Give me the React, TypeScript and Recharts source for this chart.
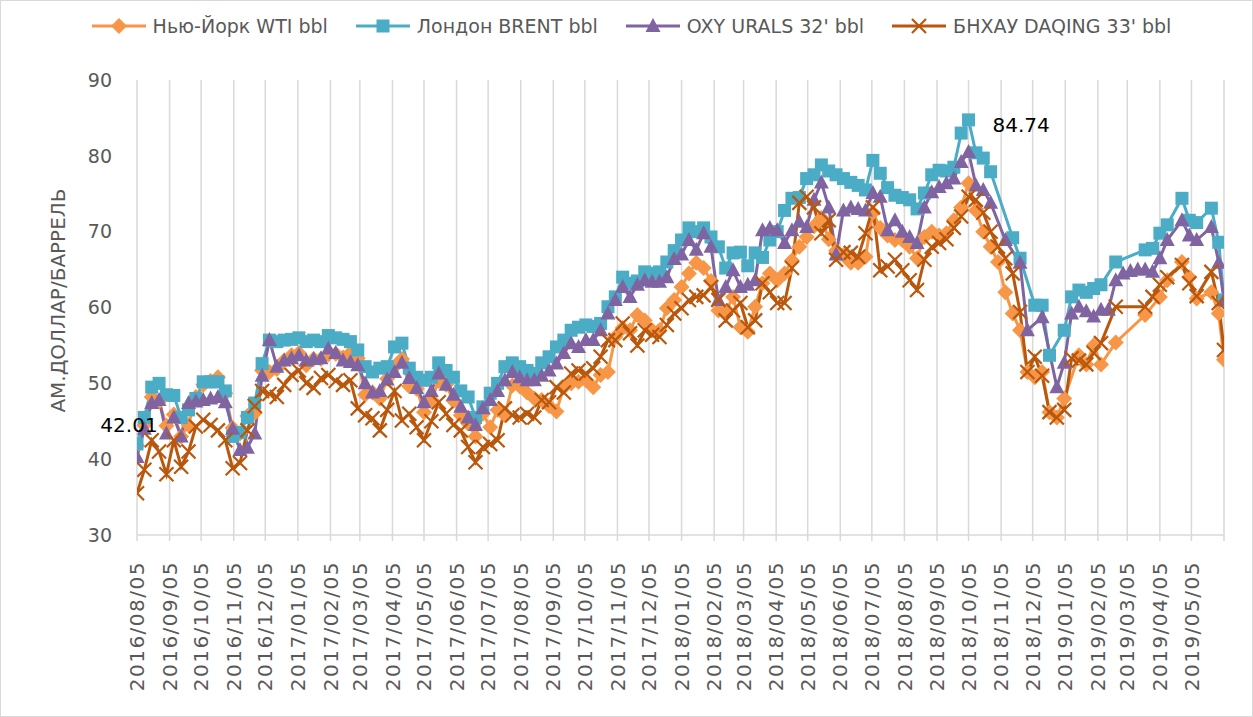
import { LineChart, Line, XAxis, YAxis, CartesianGrid } from 'recharts'

// weekly observations (Fridays), last one on the axis end
const dates = [
  '2016-08-05', '2016-08-12', '2016-08-19', '2016-08-26',
  '2016-09-02', '2016-09-09', '2016-09-16', '2016-09-23', '2016-09-30',
  '2016-10-07', '2016-10-14', '2016-10-21', '2016-10-28',
  '2016-11-04', '2016-11-11', '2016-11-18', '2016-11-25',
  '2016-12-02', '2016-12-09', '2016-12-16', '2016-12-23', '2016-12-30',
  '2017-01-06', '2017-01-13', '2017-01-20', '2017-01-27',
  '2017-02-03', '2017-02-10', '2017-02-17', '2017-02-24',
  '2017-03-03', '2017-03-10', '2017-03-17', '2017-03-24', '2017-03-31',
  '2017-04-07', '2017-04-14', '2017-04-21', '2017-04-28',
  '2017-05-05', '2017-05-12', '2017-05-19', '2017-05-26',
  '2017-06-02', '2017-06-09', '2017-06-16', '2017-06-23', '2017-06-30',
  '2017-07-07', '2017-07-14', '2017-07-21', '2017-07-28',
  '2017-08-04', '2017-08-11', '2017-08-18', '2017-08-25',
  '2017-09-01', '2017-09-08', '2017-09-15', '2017-09-22', '2017-09-29',
  '2017-10-06', '2017-10-13', '2017-10-20', '2017-10-27',
  '2017-11-03', '2017-11-10', '2017-11-17', '2017-11-24',
  '2017-12-01', '2017-12-08', '2017-12-15', '2017-12-22', '2017-12-29',
  '2018-01-05', '2018-01-12', '2018-01-19', '2018-01-26',
  '2018-02-02', '2018-02-09', '2018-02-16', '2018-02-23',
  '2018-03-02', '2018-03-09', '2018-03-16', '2018-03-23', '2018-03-30',
  '2018-04-06', '2018-04-13', '2018-04-20', '2018-04-27',
  '2018-05-04', '2018-05-11', '2018-05-18', '2018-05-25',
  '2018-06-01', '2018-06-08', '2018-06-15', '2018-06-22', '2018-06-29',
  '2018-07-06', '2018-07-13', '2018-07-20', '2018-07-27',
  '2018-08-03', '2018-08-10', '2018-08-17', '2018-08-24', '2018-08-31',
  '2018-09-07', '2018-09-14', '2018-09-21', '2018-09-28',
  '2018-10-05', '2018-10-12', '2018-10-19', '2018-10-26',
  '2018-11-02', '2018-11-09', '2018-11-16', '2018-11-23', '2018-11-30',
  '2018-12-07', '2018-12-14', '2018-12-21', '2018-12-28',
  '2019-01-04', '2019-01-11', '2019-01-18', '2019-01-25',
  '2019-02-01', '2019-02-08', '2019-02-15', '2019-02-22',
  '2019-03-01', '2019-03-08', '2019-03-15', '2019-03-22', '2019-03-29',
  '2019-04-05', '2019-04-12', '2019-04-19', '2019-04-26',
  '2019-05-03', '2019-05-10', '2019-05-17', '2019-05-24', '2019-05-31',
  '2019-06-05',
]

const wti = [
  41.8, 44.5, 48.2, 47.6,
  44.4, 45.9, 43.0, 44.5, 48.2,
  49.8, 50.3, 50.8, 48.7,
  44.1, 43.4, 45.7, 46.1,
  51.7, 51.5, 51.9, 53.0, 53.7,
  54.0, 52.4, 53.2, 53.2,
  53.8, 53.9, 53.4, 54.0,
  53.3, 48.5, 48.8, 48.0, 50.6,
  52.2, 53.2, 49.6, 49.3,
  46.2, 47.8, 50.3, 49.8,
  47.7, 45.8, 44.7, 43.0, 46.0,
  44.2, 46.5, 45.8, 49.7,
  49.6, 48.8, 48.0, 47.8,
  47.0, 46.3, 49.5, 50.0, 50.2,
  50.4, 49.5, 51.1, 51.5,
  56.1, 57.3, 57.0, 59.0,
  58.3, 57.0, 57.0, 59.9, 61.0,
  62.7, 64.5, 65.9, 65.2,
  63.5, 59.6, 59.4, 61.4,
  57.4, 56.8, 60.1, 63.2, 64.5,
  63.6, 64.5, 66.2, 68.0,
  69.3, 70.7, 71.8, 69.0,
  67.5, 66.9, 65.9, 65.9, 66.7,
  72.5, 70.5, 69.5, 68.9,
  68.9, 68.0, 66.5, 69.3, 70.0,
  69.5, 69.8, 71.5, 73.2,
  76.4, 72.8, 70.0, 68.0,
  66.0, 62.0, 59.2, 57.0, 51.5,
  50.8, 51.5, 46.2, 45.5,
  48.0, null, 53.7, 52.5,
  55.0, 52.5, null, 55.4,
  null, null, null, 59.0, null,
  61.4, 63.6, null, 66.0,
  64.0, 61.2, null, 62.0, 59.2,
  53.1,
]

const brent = [
  42.01, 45.5, 49.5, 50.0,
  48.5, 48.4, 45.5, 46.5, 48.0,
  50.2, 50.2, 50.2, 49.0,
  43.0, 43.5, 45.5, 47.4,
  52.6, 55.7, 55.5, 55.7, 55.8,
  56.0, 55.5, 55.7, 55.5,
  56.3, 56.0, 55.8, 55.5,
  54.4, 52.2, 51.5, 52.0, 52.2,
  54.8, 55.3, 52.0, 50.8,
  50.4, 50.8, 52.7, 51.7,
  50.8, 49.0, 48.2, 45.5, 46.9,
  48.7, 50.0, 52.2, 52.7,
  52.2, 51.7, 51.3, 52.7,
  53.5, 54.8, 55.7, 57.0, 57.4,
  57.7, 57.5, 57.9, 60.1,
  61.4, 64.0, 63.2, 63.5,
  64.7, 64.5, 64.7, 66.0, 67.5,
  68.9, 70.5, 70.0, 70.5,
  69.3, 68.0, 65.2, 67.2,
  67.3, 65.5, 67.2, 66.6, 68.9,
  70.0, 72.8, 74.4, 74.5,
  77.0, 77.5, 78.8, 78.0,
  77.5, 77.0, 76.5, 76.1, 75.5,
  79.4, 77.7, 75.8, 74.8,
  74.5, 74.2, 73.0, 75.1, 77.5,
  78.1, 78.0, 78.5, 83.0,
  84.74, 80.4, 79.7, 77.9,
  null, null, 69.2, 66.5, null,
  60.3, 60.3, 53.7, null,
  57.0, 61.4, 62.3, 62.0,
  62.5, 63.0, null, 66.0,
  null, null, null, 67.6, 67.8,
  69.8, 70.9, null, 74.4,
  71.5, 71.2, null, 73.1, 68.6,
  61.0,
]

const urals = [
  40.3, 44.0, 47.4, 47.8,
  43.4, 45.5, 43.0, 47.4, 47.6,
  47.8, 48.0, 48.2, 47.5,
  44.0, 41.2, 41.5, 43.4,
  51.0, 55.7, 52.2, 53.0, 53.3,
  53.7, 53.0, 53.2, 53.3,
  54.6, 54.0, 53.0, 52.8,
  52.4, 50.0, 48.8, 49.0, 50.5,
  51.5, 52.7, 50.7, 49.4,
  47.5, 49.0, 51.3, 49.8,
  48.5, 46.9, 45.5, 44.5, 46.7,
  47.8, 49.0, 50.4, 51.5,
  50.8, 50.4, 50.4, 51.0,
  51.7, 52.6, 54.0, 55.3, 54.8,
  55.7, 55.7, 57.0, 59.2,
  61.0, 62.7, 61.4, 63.0,
  63.6, 63.4, 63.4, 64.0, 66.4,
  67.0, 68.9, 67.6, 69.8,
  68.0, 61.0, 62.7, 64.9,
  62.7, 63.0, 63.6, 70.2, 70.5,
  70.2, 68.5, 70.2, 71.3,
  70.6, 74.2, 76.5, 73.2,
  67.0, 72.8, 73.2, 73.0, 72.8,
  75.1, 74.6, 70.2, 71.5,
  70.0, 69.3, 68.5, 73.2, 75.2,
  75.9, 76.4, 77.0, 79.2,
  80.5, 76.1, 75.5, 73.8,
  null, 68.9, null, 65.9, 57.0,
  null, 58.7, null, 49.5,
  52.7, 59.2, 60.1, 59.5,
  58.8, 59.7, 59.7, 63.6,
  64.5, 64.8, 65.0, 65.0, 64.7,
  66.5, 68.9, null, 71.5,
  69.5, 68.9, null, 70.6, 65.9,
  61.0,
]

const daqing = [
  35.5, 38.6, 42.5, 41.0,
  38.0, 42.5, 39.0, 41.0, 44.3,
  45.2, 44.5, 43.8, 42.5,
  38.8, 39.5, 43.8, 47.0,
  49.0, 48.6, 48.2, 49.8, 51.1,
  51.7, 50.0, 49.4, 50.7,
  51.1, 50.3, 49.8, 50.4,
  46.7, 45.8, 45.4, 43.8, 46.5,
  49.0, 45.1, 46.0, 44.2,
  42.5, 45.0, 47.5, 46.0,
  44.5, 43.8, 41.6, 39.6, 41.6,
  42.0, 42.5, 46.7, 45.8,
  45.5, 46.0, 45.5, 47.8,
  47.5, 49.5, 48.8, 51.3, 51.7,
  51.3, 52.0, 53.5, 55.7,
  55.7, 57.9, 56.6, 55.0,
  57.0, 56.4, 56.1, 57.7, 59.2,
  59.9, 61.0, 61.4, 61.6,
  62.7, 61.0, 58.3, 59.6,
  60.6, 57.4, 58.3, 63.2, 62.0,
  60.6, 60.6, 65.2, 73.8,
  74.6, 73.2, 69.8, 71.5,
  66.3, 67.3, 67.2, 66.7, 69.8,
  73.2, 64.9, 65.4, 66.3,
  64.9, 63.6, 62.3, 66.3, 68.0,
  68.5, 69.0, 70.5, 72.0,
  74.6, 74.2, 72.5, 70.0,
  68.0, 66.5, 64.5, 59.4, 51.5,
  53.5, 51.0, 46.2, 45.5,
  46.5, 53.3, 53.0, 52.5,
  54.0, 55.3, null, 60.1,
  null, null, null, 60.1, 61.4,
  63.0, 64.0, null, 65.6,
  63.2, 61.5, null, 64.7, 60.6,
  54.4,
]

const tickLabels = [
  '2016/08/05', '2016/09/05', '2016/10/05', '2016/11/05', '2016/12/05',
  '2017/01/05', '2017/02/05', '2017/03/05', '2017/04/05', '2017/05/05', '2017/06/05',
  '2017/07/05', '2017/08/05', '2017/09/05', '2017/10/05', '2017/11/05', '2017/12/05',
  '2018/01/05', '2018/02/05', '2018/03/05', '2018/04/05', '2018/05/05', '2018/06/05',
  '2018/07/05', '2018/08/05', '2018/09/05', '2018/10/05', '2018/11/05', '2018/12/05',
  '2019/01/05', '2019/02/05', '2019/03/05', '2019/04/05', '2019/05/05',
]
const axisEnd = '2019/06/05'
const yTicks = [30, 40, 50, 60, 70, 80, 90]

const FONT = '"DejaVu Sans", sans-serif'
const GRID = '#d9d9d9'
const TEXT = '#595959'

const toTime = (d: string) => Date.parse(d.replace(/\//g, '-') + 'T00:00:00Z')
const fmt = (t: number) => new Date(t).toISOString().slice(0, 10).replace(/-/g, '/')

const data = dates.map((d, i) => ({
  t: toTime(d),
  wti: wti[i],
  brent: brent[i],
  urals: urals[i],
  daqing: daqing[i],
}))

const xTicks = [...tickLabels, axisEnd].map(toTime)
const brentValues = brent.filter((v): v is number => v != null)
const brentPeak = brent.indexOf(Math.max(...brentValues))

const series = [
  { key: 'wti', name: 'Нью-Йорк WTI bbl', color: '#F79646', shape: 'diamond' },
  { key: 'brent', name: 'Лондон BRENT bbl', color: '#4BACC6', shape: 'square' },
  { key: 'urals', name: "OXY URALS 32' bbl", color: '#8064A2', shape: 'triangle' },
  { key: 'daqing', name: "БНХАУ DAQING 33' bbl", color: '#B9570C', shape: 'cross' },
]

const marker = (shape: string, cx: number, cy: number, color: string, key?: string) => {
  if (shape === 'diamond')
    return <path key={key} d={`M${cx} ${cy - 8}L${cx + 8} ${cy}L${cx} ${cy + 8}L${cx - 8} ${cy}Z`} fill={color} />
  if (shape === 'square')
    return <rect key={key} x={cx - 6.5} y={cy - 6.5} width={13} height={13} fill={color} />
  if (shape === 'triangle')
    return <path key={key} d={`M${cx} ${cy - 8}L${cx + 7.5} ${cy + 6}L${cx - 7.5} ${cy + 6}Z`} fill={color} />
  return (
    <path key={key} d={`M${cx - 7} ${cy - 7}L${cx + 7} ${cy + 7}M${cx + 7} ${cy - 7}L${cx - 7} ${cy + 7}`}
      stroke={color} strokeWidth={2.2} fill="none" />
  )
}

const dotFor = (shape: string, color: string) => (p: any) => {
  if (p.cx == null || p.cy == null || p.value == null) return <g key={`e${p.index}`} />
  return marker(shape, p.cx, p.cy, color, `m${p.index}`)
}

const XTick = ({ x, y, payload }: any) => {
  const label = fmt(payload.value)
  if (!tickLabels.includes(label)) return <g />
  return (
    <text x={x} y={y} transform={`rotate(-90 ${x} ${y})`} textAnchor="end" dy="0.36em"
      fontSize={20} letterSpacing={1.5} fontFamily={FONT} fill={TEXT}>
      {label}
    </text>
  )
}

const brentLabel = (p: any) => {
  if (p.index === 0)
    return <text key="l0" x={p.x - 8} y={p.y - 12} textAnchor="middle" fontSize={20} fontFamily={FONT} fill="#000">{p.value}</text>
  if (p.index === brentPeak)
    return <text key="lp" x={p.x + 24} y={p.y + 12} textAnchor="start" fontSize={20} fontFamily={FONT} fill="#000">{p.value}</text>
  return null
}

const ChartLegend = () => (
  <div style={{ position: 'absolute', top: 14, left: 4, width: 1253, display: 'flex', justifyContent: 'center', gap: 28 }}>
    {series.map(s => (
      <div key={s.key} style={{ display: 'flex', alignItems: 'center', gap: 7 }}>
        <svg width={54} height={20}>
          <line x1={0} y1={10} x2={54} y2={10} stroke={s.color} strokeWidth={3} />
          {marker(s.shape, 27, 10, s.color)}
        </svg>
        <span style={{ fontFamily: FONT, fontSize: 19, color: TEXT, whiteSpace: 'nowrap' }}>{s.name}</span>
      </div>
    ))}
  </div>
)

export default function App() {
  return (
    <div style={{ position: 'absolute', left: 0, top: 0, width: 1253, height: 717, background: '#fff',
      border: `1px solid ${GRID}`, boxSizing: 'border-box', overflow: 'hidden' }}>
      <ChartLegend />
      <div style={{ position: 'absolute', left: -1, top: -1 }}>
        <LineChart width={1253} height={717} data={data} margin={{ top: 80, right: 29, bottom: 22, left: 0 }}>
          <CartesianGrid horizontal={false} stroke={GRID} strokeWidth={1.5} />
          <XAxis dataKey="t" type="number" scale="time" domain={[xTicks[0], xTicks[xTicks.length - 1]]}
            ticks={xTicks} interval={0} height={160} tick={<XTick />} tickSize={6} tickMargin={20}
            stroke={GRID} strokeWidth={1.5} allowDataOverflow />
          <YAxis type="number" domain={[30, 90]} ticks={yTicks} width={137} axisLine={false} tickLine={false}
            tickSize={6} tickMargin={19} tick={{ fontSize: 19, fill: TEXT, fontFamily: FONT }}
            label={({ viewBox }: any) => {
              const cx = viewBox.x + 58
              const cy = viewBox.y + viewBox.height / 2 - 7
              return (
                <text x={cx} y={cy} transform={`rotate(-90 ${cx} ${cy})`} textAnchor="middle" dy="0.36em"
                  fontSize={20} fontFamily={FONT} fill={TEXT}>
                  АМ.ДОЛЛАР/БАРРЕЛЬ
                </text>
              )
            }} />
          {series.map(s => (
            <Line key={s.key} dataKey={s.key} name={s.name} type="linear" stroke={s.color} strokeWidth={3}
              connectNulls isAnimationActive={false} dot={dotFor(s.shape, s.color)} activeDot={false}
              label={s.key === 'brent' ? brentLabel : undefined} />
          ))}
        </LineChart>
      </div>
    </div>
  )
}
